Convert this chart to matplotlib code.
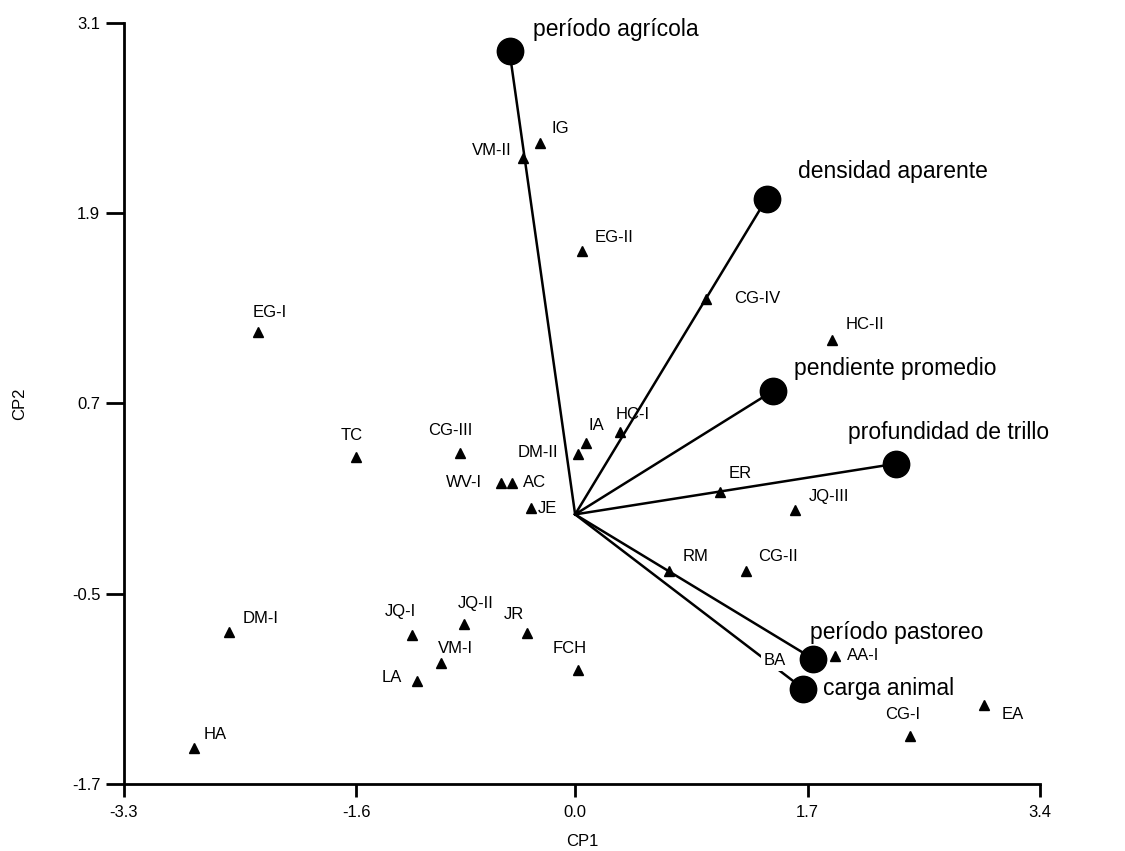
import matplotlib.pyplot as plt

plt.rcParams['font.family'] = ['Liberation Sans', 'DejaVu Sans']

# sitios (scores CP1 / CP2)
sites = ['IG', 'VM-II', 'EG-II', 'CG-IV', 'HC-II', 'EG-I', 'TC', 'CG-III', 'DM-II', 'IA',
         'HC-I', 'WV-I', 'AC', 'JE', 'ER', 'JQ-III', 'RM', 'CG-II', 'DM-I', 'HA',
         'JQ-I', 'JQ-II', 'VM-I', 'LA', 'JR', 'FCH', 'AA-I', 'BA', 'EA', 'CG-I']
cp1 = [-0.26, -0.38, 0.05, 0.96, 1.88, -2.32, -1.60, -0.84, 0.02, 0.08,
       0.33, -0.54, -0.46, -0.32, 1.06, 1.61, 0.69, 1.25, -2.53, -2.79,
       -1.19, -0.81, -0.98, -1.16, -0.35, 0.02, 1.90, 1.43, 2.99, 2.45]
cp2 = [2.34, 2.25, 1.66, 1.36, 1.10, 1.15, 0.36, 0.39, 0.38, 0.45,
       0.52, 0.20, 0.20, 0.04, 0.14, 0.03, -0.36, -0.36, -0.74, -1.47,
       -0.76, -0.69, -0.94, -1.05, -0.75, -0.98, -0.89, -0.94, -1.20, -1.40]

# variables (vectores)
variables = ['período agrícola', 'densidad aparente', 'pendiente promedio',
             'profundidad de trillo', 'período pastoreo', 'carga animal']
var_cp1 = [-0.48, 1.40, 1.45, 2.35, 1.74, 1.67]
var_cp2 = [2.92, 1.99, 0.78, 0.32, -0.91, -1.10]

xticks = [-3.3, -1.6, 0.0, 1.7, 3.4]
yticks = [-1.7, -0.5, 0.7, 1.9, 3.1]

# label placement (pixels offset, alignment)
site_off = {
    'IG': (12, 15, 'left'), 'VM-II': (-12, 7, 'right'), 'EG-II': (13, 14, 'left'),
    'CG-IV': (28, 0, 'left'), 'HC-II': (13, 15, 'left'), 'EG-I': (-5, 20, 'left'),
    'TC': (-5, 22, 'center'), 'CG-III': (-10, 22, 'center'), 'DM-II': (-20, 2, 'right'),
    'IA': (2, 18, 'left'), 'HC-I': (-5, 17, 'left'), 'WV-I': (-19, 0, 'right'),
    'AC': (11, 0, 'left'), 'JE': (6, 0, 'left'), 'ER': (9, 19, 'left'),
    'JQ-III': (14, 13, 'left'), 'RM': (13, 15, 'left'), 'CG-II': (12, 15, 'left'),
    'DM-I': (13, 13, 'left'), 'HA': (10, 13, 'left'), 'JQ-I': (-28, 23, 'left'),
    'JQ-II': (-7, 20, 'left'), 'VM-I': (-3, 15, 'left'), 'LA': (-15, 3, 'right'),
    'JR': (-23, 19, 'left'), 'FCH': (-25, 21, 'left'), 'AA-I': (12, 0, 'left'),
    'BA': (4, 3, 'center'), 'EA': (18, -10, 'left'), 'CG-I': (-25, 22, 'left'),
}
var_off = [(23, 22), (31, 27), (21, 22), (-48, 31), (-3, 26), (20, 0)]

fig = plt.figure(figsize=(11.25, 8.51), dpi=100)
ax = fig.add_axes([0.1102, 0.0787, 0.8142, 0.8946])

for vx, vy in zip(var_cp1, var_cp2):
    ax.plot([0, vx], [0, vy], color='black', lw=1.8, zorder=2)
ax.plot(var_cp1, var_cp2, 'o', color='black', markersize=19, zorder=4)
for name, vx, vy, off in zip(variables, var_cp1, var_cp2, var_off):
    ax.annotate(name, (vx, vy), xytext=off, textcoords='offset pixels',
                ha='left', va='center', fontsize=16.5, zorder=5)

ax.plot(cp1, cp2, '^', color='black', markersize=7, zorder=3)
for s, x, y in zip(sites, cp1, cp2):
    dx, dy, ha = site_off[s]
    kw = {}
    if s == 'BA':
        kw['bbox'] = dict(facecolor='white', edgecolor='none', pad=2)
    ax.annotate(s, (x, y), xytext=(dx, dy), textcoords='offset pixels',
                ha=ha, va='center', fontsize=12, zorder=6, **kw)

ax.set_xlim(-3.3, 3.4)
ax.set_ylim(-1.7, 3.1)
ax.set_xticks(xticks)
ax.set_xticklabels(['-3.3', '-1.6', '0.0', '1.7', '3.4'])
ax.set_yticks(yticks)
ax.set_yticklabels(['-1.7', '-0.5', '0.7', '1.9', '3.1'])
ax.spines['top'].set_visible(False)
ax.spines['right'].set_visible(False)
ax.spines['left'].set_linewidth(2)
ax.spines['bottom'].set_linewidth(2)
ax.tick_params(axis='x', direction='out', length=9, width=2, labelsize=12, pad=6)
ax.tick_params(axis='y', direction='out', length=13, width=2, labelsize=12, pad=4)
ax.set_xlabel('CP1', fontsize=12, labelpad=10)
ax.set_ylabel('CP2', fontsize=12, labelpad=32)

plt.savefig('out.png', dpi=100)
